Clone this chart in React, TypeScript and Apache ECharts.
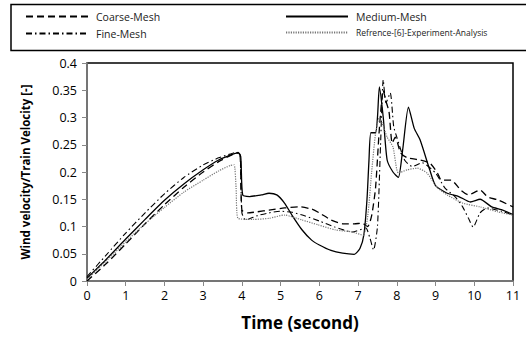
import React, { useEffect, useRef } from "react";
import * as echarts from "echarts";

const xTicks = [0, 1, 2, 3, 4, 5, 6, 7, 8, 9, 10, 11];
const yTicks = [0, 0.05, 0.1, 0.15, 0.2, 0.25, 0.3, 0.35, 0.4];

const coarseT = [0, 0.5, 1, 1.5, 2, 2.5, 3, 3.4, 3.7, 3.9, 3.96, 4.0, 4.15, 4.4, 4.7, 5.1, 5.5, 5.8, 6.0, 6.3, 6.6, 6.9, 7.1, 7.25, 7.35, 7.45, 7.55, 7.65, 7.72, 7.8, 7.88, 7.96, 8.1, 8.27, 8.6, 8.86, 9.05, 9.15, 9.4, 9.65, 9.85, 10.15, 10.35, 10.6, 11];
const coarseV = [0, 0.032, 0.068, 0.105, 0.14, 0.172, 0.2, 0.219, 0.23, 0.236, 0.23, 0.13, 0.125, 0.127, 0.13, 0.134, 0.136, 0.132, 0.125, 0.112, 0.105, 0.105, 0.106, 0.1, 0.12, 0.17, 0.28, 0.35, 0.33, 0.31, 0.253, 0.264, 0.235, 0.226, 0.222, 0.216, 0.198, 0.185, 0.185, 0.167, 0.158, 0.167, 0.154, 0.149, 0.136];

const mediumT = [0, 0.5, 1, 1.5, 2, 2.5, 3, 3.4, 3.7, 3.9, 3.97, 4.02, 4.2, 4.5, 4.7, 4.9, 5.1, 5.3, 5.55, 5.8, 6.0, 6.3, 6.6, 6.9, 7.05, 7.15, 7.23, 7.28, 7.33, 7.45, 7.5, 7.55, 7.65, 7.75, 7.9, 8.04, 8.15, 8.3, 8.45, 8.6, 8.85, 9.0, 9.3, 9.6, 9.9, 10.15, 10.45, 10.7, 11];
const mediumV = [0.005, 0.04, 0.077, 0.113, 0.148, 0.178, 0.204, 0.222, 0.231, 0.235, 0.228, 0.158, 0.155, 0.158, 0.161, 0.158, 0.143, 0.12, 0.094, 0.075, 0.066, 0.056, 0.051, 0.049, 0.06, 0.085, 0.15, 0.22, 0.272, 0.272, 0.3, 0.356, 0.3, 0.222, 0.2, 0.19, 0.24, 0.319, 0.28, 0.259, 0.204, 0.175, 0.161, 0.155, 0.145, 0.15, 0.136, 0.131, 0.122];

const fineT = [0, 0.5, 1, 1.5, 2, 2.5, 3, 3.4, 3.7, 3.85, 3.95, 4.0, 4.1, 4.4, 4.7, 5.0, 5.3, 5.6, 6.0, 6.4, 6.85, 7.2, 7.3, 7.4, 7.5, 7.58, 7.65, 7.72, 7.83, 7.92, 8.0, 8.2, 8.4, 8.65, 9.0, 9.25, 9.5, 9.7, 9.85, 9.97, 10.15, 10.33, 10.7, 11];
const fineV = [0.008, 0.048, 0.088, 0.125, 0.16, 0.19, 0.213, 0.226, 0.233, 0.236, 0.23, 0.125, 0.112, 0.12, 0.125, 0.128, 0.126, 0.12, 0.11, 0.099, 0.09, 0.097, 0.08, 0.057, 0.1, 0.25, 0.369, 0.327, 0.345, 0.283, 0.264, 0.222, 0.21, 0.217, 0.198, 0.17, 0.155, 0.136, 0.115, 0.099, 0.125, 0.134, 0.128, 0.121];

const refT = [0, 0.5, 1, 1.5, 2, 2.5, 3, 3.4, 3.7, 3.8, 3.85, 3.9, 4.3, 4.7, 5.1, 5.55, 5.97, 6.4, 6.85, 7.13, 7.25, 7.35, 7.45, 7.55, 7.62, 7.75, 7.9, 8.04, 8.27, 8.53, 8.78, 9.04, 9.3, 9.7, 10.15, 10.6, 11];
const refV = [0.003, 0.037, 0.072, 0.105, 0.135, 0.163, 0.185, 0.202, 0.212, 0.213, 0.17, 0.115, 0.113, 0.115, 0.121, 0.112, 0.103, 0.094, 0.09, 0.084, 0.12, 0.2, 0.27, 0.3, 0.29, 0.264, 0.246, 0.198, 0.204, 0.207, 0.198, 0.172, 0.158, 0.143, 0.136, 0.127, 0.121];

const seriesNames = ["Coarse-Mesh", "Medium-Mesh", "Fine-Mesh", "Refrence-[6]-Experiment-Analysis"];

const zip = (t: number[], v: number[]) => t.map((x, i) => [x, v[i]]);

const FONT = "'Open Sans', 'Liberation Sans', sans-serif";

export default function App() {
  const ref = useRef<HTMLDivElement>(null);
  useEffect(() => {
    if (!ref.current) return;
    const chart = echarts.init(ref.current, null, { renderer: "svg" });
    const legendBase = {
      itemWidth: 62,
      itemHeight: 10,
      itemStyle: { opacity: 0 },
      textStyle: { fontFamily: FONT, fontSize: 10.5, color: "#222", padding: [0, 0, 0, 3] },
      selectedMode: false,
    };
    chart.setOption({
      animation: false,
      backgroundColor: "#fff",
      legend: [
        { ...legendBase, data: [seriesNames[0]], left: 20, top: 6 },
        { ...legendBase, data: [seriesNames[1]], left: 280, top: 6 },
        { ...legendBase, data: [seriesNames[2]], left: 20, top: 23 },
        { ...legendBase, data: [seriesNames[3]], left: 280, top: 23, textStyle: { ...legendBase.textStyle, fontSize: 8.5 } },
      ],
      graphic: [
        {
          type: "rect",
          shape: { x: 11, y: 4.5, width: 530, height: 46 },
          style: { fill: "none", stroke: "#000", lineWidth: 1.5 },
          z: 100,
        },
      ],
      grid: {
        left: 87,
        right: 13,
        top: 63,
        bottom: 58,
        show: true,
        borderColor: "#000",
        borderWidth: 1.5,
      },
      xAxis: {
        type: "value",
        min: 0,
        max: 11,
        interval: 1,
        name: "Time (second)",
        nameLocation: "middle",
        nameGap: 33,
        nameTextStyle: { fontFamily: FONT, fontSize: 17, fontWeight: "bold", color: "#000" },
        axisLine: { show: true, lineStyle: { color: "#888", width: 1.5 } },
        axisTick: { show: true, length: 5, lineStyle: { color: "#888" } },
        axisLabel: { fontFamily: FONT, fontSize: 12.5, color: "#000", margin: 8, formatter: (v: number) => (xTicks.includes(v) ? String(v) : "") },
        splitLine: { show: false },
      },
      yAxis: {
        type: "value",
        min: 0,
        max: 0.4,
        interval: 0.05,
        name: "Wind velocity/Train Velocity [-]",
        nameLocation: "middle",
        nameGap: 56,
        nameRotate: 90,
        nameTextStyle: { fontFamily: FONT, fontSize: 11.5, fontWeight: "bold", color: "#000" },
        axisLine: { show: true, lineStyle: { color: "#888", width: 1.5 } },
        axisTick: { show: true, length: 5, lineStyle: { color: "#888" } },
        axisLabel: { fontFamily: FONT, fontSize: 12.5, color: "#000", margin: 10, formatter: (v: number) => { const r = yTicks.find((y) => Math.abs(y - v) < 1e-9); return r === undefined ? "" : String(r); } },
        splitLine: { show: false },
      },
      series: [
        {
          name: seriesNames[0], type: "line", data: zip(coarseT, coarseV), showSymbol: false, symbol: "none", smooth: 0.2,
          lineStyle: { color: "#000", width: 1.3, type: [7, 4] }, itemStyle: { color: "#000" },
        },
        {
          name: seriesNames[1], type: "line", data: zip(mediumT, mediumV), showSymbol: false, symbol: "none", smooth: 0.2,
          lineStyle: { color: "#000", width: 1.3, type: "solid" }, itemStyle: { color: "#000" },
        },
        {
          name: seriesNames[2], type: "line", data: zip(fineT, fineV), showSymbol: false, symbol: "none", smooth: 0.2,
          lineStyle: { color: "#000", width: 1.1, type: [6, 3, 1.5, 3] }, itemStyle: { color: "#000" },
        },
        {
          name: seriesNames[3], type: "line", data: zip(refT, refV), showSymbol: false, symbol: "none", smooth: 0.2,
          lineStyle: { color: "#777", width: 1.2, type: [1.2, 1.2] }, itemStyle: { color: "#777" },
        },
      ],
    });
    return () => chart.dispose();
  }, []);
  return <div ref={ref} style={{ width: 526, height: 339, position: "absolute", left: 0, top: 0 }} />;
}
